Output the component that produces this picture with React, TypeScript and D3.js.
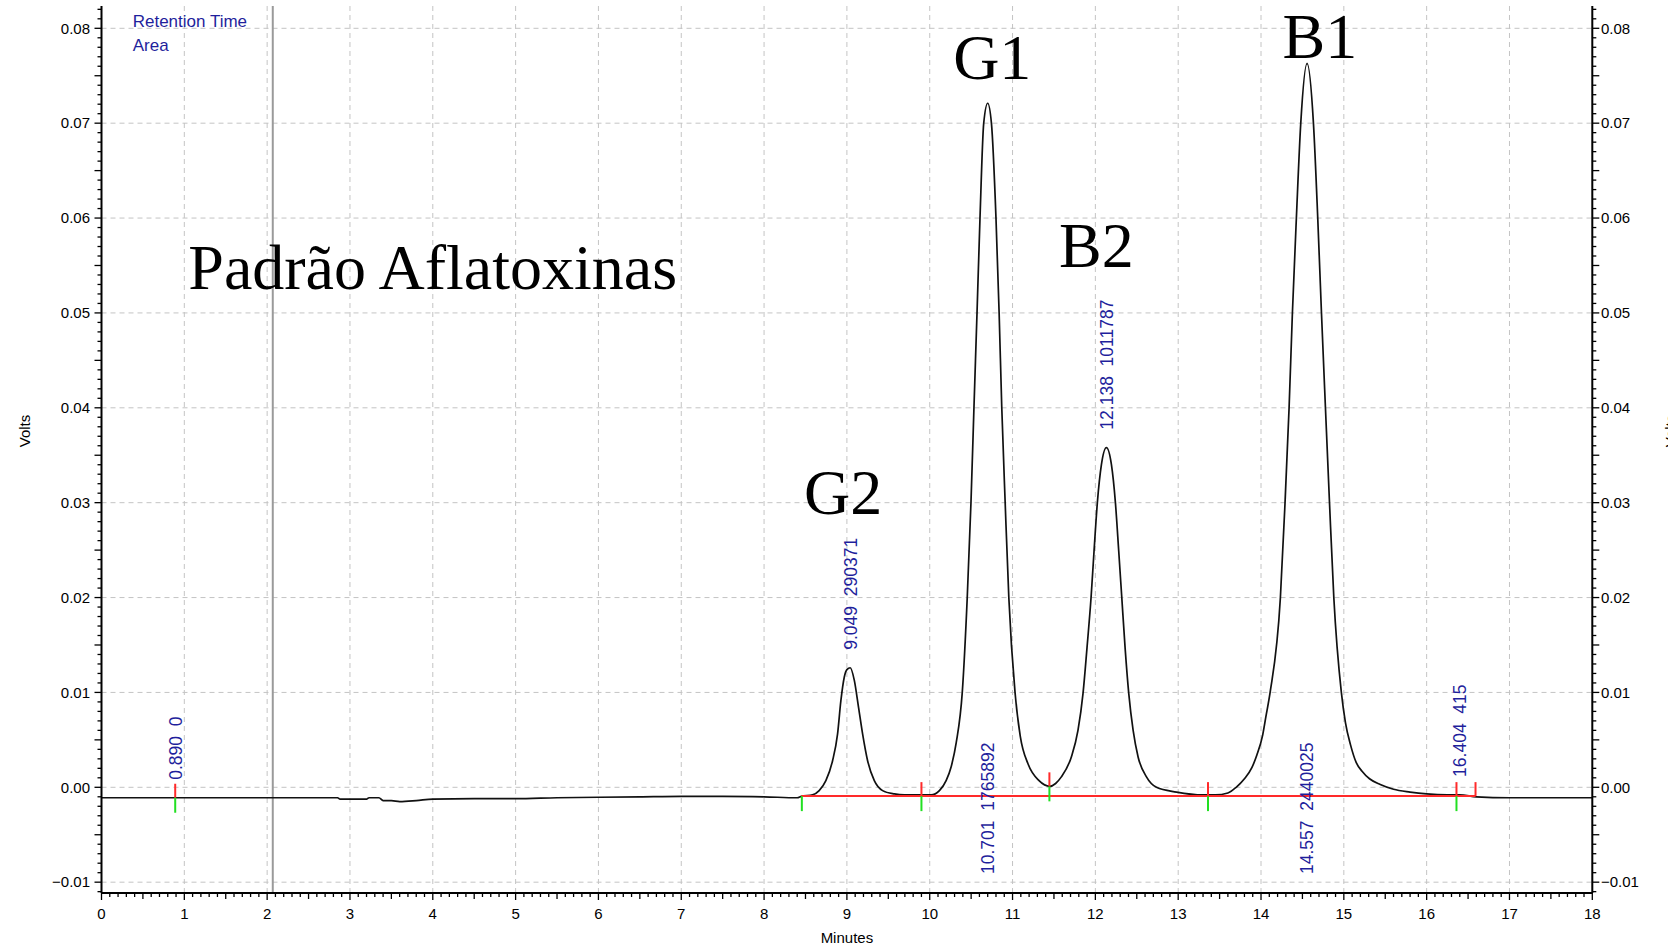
import React from "react";
import * as d3 from "d3";

// ---- data ----
const traceTime = [
  0, 2.85, 2.88, 3.2, 3.23, 3.35, 3.4, 3.5, 3.6, 3.8, 4.0, 4.5, 5.0, 5.5, 6.0, 6.5, 7.0, 7.5, 8.0, 8.4,
  8.45, 8.585, 8.665, 8.746, 8.827, 8.887, 8.927, 8.968, 9.0, 9.04, 9.089, 9.141, 9.19, 9.25, 9.331, 9.431, 9.573, 9.694, 9.9,
  10.016, 10.117, 10.198, 10.26, 10.32, 10.393, 10.453, 10.498, 10.534, 10.571, 10.607, 10.652, 10.70,
  10.745, 10.80, 10.838, 10.870, 10.911, 10.955, 11.03, 11.093, 11.19, 11.32, 11.45,
  11.52, 11.589, 11.71, 11.79, 11.851, 11.899, 11.948, 11.984, 12.024, 12.073, 12.133,
  12.194, 12.242, 12.282, 12.319, 12.359, 12.403, 12.456, 12.516, 12.617, 12.738, 12.98, 13.3,
  13.45, 13.6, 13.7, 13.8, 13.891, 13.95, 14.02, 14.06, 14.11, 14.234, 14.29, 14.339, 14.379, 14.427, 14.48, 14.556,
  14.633, 14.685, 14.73, 14.778, 14.827, 14.879, 14.97, 15.02, 15.08, 15.15, 15.22, 15.31, 15.44, 15.6, 15.8, 16.0, 16.25, 16.4, 16.6,
  17.0, 18.0,
];
const traceVolts = [
  -0.0011, -0.0011, -0.00125, -0.00125, -0.0011, -0.0011, -0.0014, -0.0014, -0.0015, -0.0014, -0.00125, -0.0012, -0.0012, -0.0011, -0.00105, -0.001, -0.00095, -0.00095, -0.001, -0.0011,
  -0.00095, -0.0008, -0.00035, 0.0007, 0.0028, 0.0056, 0.0091, 0.0116, 0.0124, 0.0126, 0.0113, 0.0084, 0.0056, 0.0028, 0.0007, -0.00035, -0.0007, -0.0008, -0.0008,
  -0.0008, -0.00035, 0.0007, 0.0022, 0.0047, 0.01, 0.02, 0.03, 0.04, 0.05, 0.06, 0.07, 0.0721,
  0.07, 0.06, 0.05, 0.04, 0.03, 0.02, 0.01, 0.0054, 0.0024, 0.0007, 0.0001,
  0.0004, 0.0011, 0.0032, 0.006, 0.0099, 0.0147, 0.02, 0.0249, 0.03, 0.034, 0.0358,
  0.034, 0.03, 0.0249, 0.02, 0.0147, 0.0099, 0.006, 0.0032, 0.0011, 0.0, -0.0005, -0.0008,
  -0.0008, -0.0006, 0.0, 0.0009, 0.0021, 0.0034, 0.0055, 0.0075, 0.01, 0.02, 0.03, 0.04, 0.05, 0.06, 0.07, 0.0763,
  0.07, 0.06, 0.05, 0.04, 0.03, 0.02, 0.01, 0.0068, 0.0045, 0.0026, 0.0017, 0.0009, 0.0003, -0.0002, -0.0005, -0.0007, -0.0008, -0.0008, -0.001,
  -0.0011, -0.0011,
];

// integration baseline (red)
const baselineTime = [8.45, 16.59];
const baselineVolts = [-0.00093, -0.00093];

// peak start/stop event marks
const markTime = [0.89, 8.456, 9.9, 11.445, 13.36, 16.36, 16.59];
const markVolts = [-0.0011, -0.00093, -0.00093, 0.0001, -0.00093, -0.00093, -0.00093];
const markHasRed = [true, false, true, true, true, true, true];
const markHasGreen = [true, true, true, true, true, true, false];

// peak labels (retention time, area)
const peakTime = [0.89, 9.049, 10.701, 12.138, 14.557, 16.404];
const peakArea = ["0", "290371", "1765892", "1011787", "2440025", "415"];
const peakTop = [-0.0011, 0.0126, 0.0721, 0.0358, 0.0763, -0.0008];
const peakPlace = ["above", "above", "below", "above", "below", "above"];

// compound annotations
const compoundNames = ["G2", "G1", "B2", "B1"];
const compoundTime = [8.955, 10.755, 12.013, 14.711];
const compoundVolts = [0.02883, 0.07469, 0.05484, 0.07682];
const titleText = "Padrão Aflatoxinas";
const titleTime = 1.048;
const titleVolts = 0.05247;

const eventTimes = [2.068];

const xTicks = d3.range(0, 19, 1);
const yTicks = [-0.01, 0.0, 0.01, 0.02, 0.03, 0.04, 0.05, 0.06, 0.07, 0.08];

export default function App() {
  const W = 1668;
  const H = 946;
  const left = 101.5;
  const right = 1592.3;
  const top = 6;
  const bottom = 893;

  const x = d3.scaleLinear().domain([0, 18]).range([left, right]);
  const y = d3.scaleLinear().domain([0, 0.08]).range([787.3, 28.3]);

  const pts = traceTime.map((t, i) => [t, traceVolts[i]] as [number, number]);
  const line = d3
    .line<[number, number]>()
    .x((d) => x(d[0]))
    .y((d) => y(d[1]))
    .curve(d3.curveMonotoneX);

  const basePts = baselineTime.map((t, i) => [t, baselineVolts[i]] as [number, number]);
  const baseLine = d3
    .line<[number, number]>()
    .x((d) => x(d[0]))
    .y((d) => y(d[1]));

  const yMin = y.invert(bottom);
  const yMax = y.invert(top);
  const yMinor = d3.range(Math.ceil(yMin * 1000), Math.floor(yMax * 1000) + 1).map((k) => k / 1000);
  const xMinor = d3.range(0, 181).map((k) => k / 10);

  const fmtY = d3.format(".2f");
  const tickFont = "'Liberation Sans', Arial, sans-serif";
  const blue = "#1f1f9c";

  return (
    <svg
      width={W}
      height={H}
      style={{ position: "absolute", left: 0, top: 0, display: "block", background: "#fff" }}
    >
      <rect x={0} y={0} width={W} height={H} fill="#fff" />
      {/* grid */}
      <g stroke="#c4c4c4" strokeWidth={1} strokeDasharray="5,4">
        {xTicks.slice(1, -1).map((t) => (
          <line key={"gx" + t} x1={x(t)} x2={x(t)} y1={top} y2={bottom} />
        ))}
        {yTicks.map((t) => (
          <line key={"gy" + t} x1={left} x2={right} y1={y(t)} y2={y(t)} />
        ))}
      </g>

      {/* event line */}
      {eventTimes.map((t) => (
        <line key={"ev" + t} x1={x(t)} x2={x(t)} y1={top} y2={bottom} stroke="#9a9a9a" strokeWidth={2} />
      ))}

      {/* title & compound labels */}
      <text
        x={x(titleTime)}
        y={y(titleVolts)}
        fontFamily="'Liberation Serif', 'Times New Roman', serif"
        fontSize={64}
        fill="#000"
      >
        {titleText}
      </text>
      {compoundNames.map((n, i) => (
        <text
          key={n}
          x={x(compoundTime[i])}
          y={y(compoundVolts[i])}
          textAnchor="middle"
          fontFamily="'Liberation Serif', 'Times New Roman', serif"
          fontSize={64}
          fill="#000"
        >
          {n}
        </text>
      ))}

      {/* trace */}
      <path d={line(pts) || ""} fill="none" stroke="#111" strokeWidth={1.7} strokeLinejoin="round" />

      {/* integration baseline */}
      <path d={baseLine(basePts) || ""} fill="none" stroke="#ff2a2a" strokeWidth={2} />

      {/* event marks */}
      {markTime.map((t, i) => (
        <g key={"mk" + i}>
          {markHasRed[i] && (
            <line x1={x(t)} x2={x(t)} y1={y(markVolts[i])} y2={y(markVolts[i]) - 14} stroke="#ff2a2a" strokeWidth={2} />
          )}
          {markHasGreen[i] && (
            <line x1={x(t)} x2={x(t)} y1={y(markVolts[i])} y2={y(markVolts[i]) + 15} stroke="#22e022" strokeWidth={2} />
          )}
        </g>
      ))}

      {/* peak labels */}
      {peakTime.map((t, i) => {
        const px = x(t);
        const py = peakPlace[i] === "above" ? y(peakTop[i]) - 18 : 874;
        return (
          <text
            key={"pl" + i}
            transform={`translate(${px},${py}) rotate(-90)`}
            dy="0.36em"
            fontFamily={tickFont}
            fontSize={17.5}
            fill={blue}
            style={{ whiteSpace: "pre" }}
          >
            {t.toFixed(3) + "  " + peakArea[i]}
          </text>
        );
      })}

      {/* Legend */}
      <text x={132.7} y={27} fontFamily={tickFont} fontSize={17} fill={blue}>
        Retention Time
      </text>
      <text x={132.7} y={50.5} fontFamily={tickFont} fontSize={17} fill={blue}>
        Area
      </text>

      {/* axes */}
      <g stroke="#000" strokeWidth={2} fill="none">
        <line x1={left} x2={left} y1={top} y2={bottom} />
        <line x1={right} x2={right} y1={top} y2={bottom} />
        <line x1={left} x2={right} y1={bottom} y2={bottom} />
      </g>
      <g stroke="#000" strokeWidth={1.3}>
        {yMinor.map((v) => {
          const k = Math.round(v * 1000);
          const len = k % 5 === 0 ? 7 : 4;
          return (
            <g key={"yt" + k}>
              <line x1={left - len} x2={left} y1={y(v)} y2={y(v)} />
              <line x1={right} x2={right + len} y1={y(v)} y2={y(v)} />
            </g>
          );
        })}
        {xMinor.map((v) => {
          const k = Math.round(v * 10);
          const len = k % 10 === 0 ? 7 : k % 5 === 0 ? 6 : 4;
          return <line key={"xt" + k} x1={x(v)} x2={x(v)} y1={bottom} y2={bottom + len} />;
        })}
      </g>
      {/* tick labels */}
      <g fontFamily={tickFont} fontSize={15} fill="#000">
        {yTicks.map((t) => (
          <text key={"yl" + t} x={90} y={y(t)} dy="0.35em" textAnchor="end">
            {fmtY(t === 0 ? 0 : t)}
          </text>
        ))}
        {yTicks.map((t) => (
          <text key={"yr" + t} x={1601} y={y(t)} dy="0.35em" textAnchor="start">
            {fmtY(t === 0 ? 0 : t)}
          </text>
        ))}
        {xTicks.map((t) => (
          <text key={"xl" + t} x={x(t)} y={919} textAnchor="middle">
            {t}
          </text>
        ))}
        <text x={(left + right) / 2} y={943} textAnchor="middle">
          Minutes
        </text>
        <text transform={`translate(30,431) rotate(-90)`} textAnchor="middle">
          Volts
        </text>
        <text transform={`translate(1676,431) rotate(-90)`} textAnchor="middle">
          Volts
        </text>
      </g>
    </svg>
  );
}
